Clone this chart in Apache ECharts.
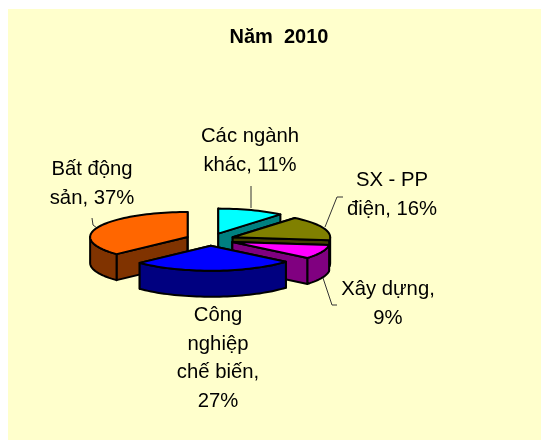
<!DOCTYPE html>
<html>
<head>
<meta charset="utf-8">
<style>html,body{margin:0;padding:0;background:#fff}#c{width:541px;height:440px}</style>
<script src="https://cdn.jsdelivr.net/npm/echarts@6/dist/echarts.min.js"></script>
</head>
<body>
<div id="c"></div>
<script>
var categories = ['Các ngành khác', 'SX - PP điện', 'Xây dựng', 'Công nghiệp chế biến', 'Bất động sản'];
var values = [11, 16, 9, 27, 37];
var titleText = 'Năm  2010';

var topColors = ['#00FFFF', '#808000', '#FF00FF', '#0000FF', '#FF6600'];
var wallColors = ['#008080', '#404000', '#800080', '#000080', '#803300'];
var labelLines = [
  ['Các ngành', 'khác, 11%'],
  ['SX - PP', 'điện, 16%'],
  ['Xây dựng,', '9%'],
  ['Công', 'nghiệp', 'chế biến,', '27%'],
  ['Bất động', 'sản, 37%']
];
var labelAnchors = [[250, 136.5], [392, 180.5], [388, 289.5], [218, 315.5], [92, 169.5]];
var leaders = [
  [[251, 186], [251, 208]],
  [[343, 197], [337, 197], [325, 227]],
  [[337, 305], [332, 305], [323, 278]],
  null,
  [[92, 218], [93, 225], [97, 228]]
];

var CX = 210, CY = 239.5, RX = 97.5, RY = 25, DEPTH = 26, EXPLODE = 0.25, LINE_H = 28.7;
var total = values.reduce(function (a, b) { return a + b; }, 0);
var spans = [], acc = 0;
values.forEach(function (v) {
  var a0 = acc / total * Math.PI * 2;
  acc += v;
  spans.push([a0, acc / total * Math.PI * 2]);
});
function pt(apex, a, dz) {
  return [apex[0] + RX * Math.sin(a), apex[1] - RY * Math.cos(a) + (dz || 0)];
}
function arc(apex, a0, a1, dz) {
  var pts = [], n = Math.max(2, Math.ceil((a1 - a0) / 0.04));
  for (var i = 0; i <= n; i++) pts.push(pt(apex, a0 + (a1 - a0) * i / n, dz));
  return pts;
}
function poly(points, fill) {
  return {
    type: 'polygon',
    shape: { points: points },
    style: { fill: fill, stroke: '#000', lineWidth: 2, lineJoin: 'round' }
  };
}
function renderItem(params, api) {
  var i = api.value(0);
  var a0 = spans[i][0], a1 = spans[i][1], mid = (a0 + a1) / 2;
  var apex = [CX + EXPLODE * RX * Math.sin(mid), CY - EXPLODE * RY * Math.cos(mid)];
  var low = [apex[0], apex[1] + DEPTH];
  var kids = [];
  [a0, a1].forEach(function (a) {
    kids.push(poly([apex, pt(apex, a), pt(apex, a, DEPTH), low], wallColors[i]));
  });
  var f0 = Math.max(a0, Math.PI / 2), f1 = Math.min(a1, Math.PI * 1.5);
  if (f1 > f0) {
    kids.push(poly(arc(apex, f0, f1, 0).concat(arc(apex, f0, f1, DEPTH).reverse()), wallColors[i]));
  }
  kids.push(poly([apex].concat(arc(apex, a0, a1, 0)), topColors[i]));
  return { type: 'group', children: kids };
}
function labelItem(params, api) {
  var i = api.value(0);
  var kids = labelLines[i].map(function (t, k) {
    return {
      type: 'text',
      style: {
        text: t, x: labelAnchors[i][0], y: labelAnchors[i][1] + k * LINE_H,
        font: '20.3px "Liberation Sans", Arial, sans-serif', fill: '#000',
        align: 'center', verticalAlign: 'middle'
      }
    };
  });
  if (leaders[i]) {
    kids.push({
      type: 'polyline', shape: { points: leaders[i] },
      style: { stroke: '#333', lineWidth: 1, fill: null }
    });
  }
  return { type: 'group', children: kids };
}
var order = categories.map(function (_, i) { return i; }).sort(function (a, b) {
  return Math.cos((spans[b][0] + spans[b][1]) / 2) < Math.cos((spans[a][0] + spans[a][1]) / 2) ? -1 : 1;
});
var chart = echarts.init(document.getElementById('c'), null, { renderer: 'canvas' });
chart.setOption({
  animation: false,
  backgroundColor: '#fff',
  title: {
    text: titleText, left: 279, top: 27, textAlign: 'center',
    textStyle: { fontFamily: '"Liberation Sans", Arial, sans-serif', fontSize: 20, fontWeight: 'bold', color: '#000' },
    padding: 0
  },
  graphic: [{
    type: 'rect', z: -10, silent: true,
    shape: { x: 8, y: 9, width: 533, height: 431 },
    style: { fill: '#FFFFCC' }
  }],
  series: [
    { type: 'custom', name: 'labels', coordinateSystem: 'none', renderItem: labelItem, silent: true, z: 2,
      data: categories.map(function (c, i) { return [i, values[i]]; }) },
    { type: 'custom', name: 'slices', coordinateSystem: 'none', renderItem: renderItem, silent: true, z: 3,
      data: order.map(function (i) { return { value: [i, values[i]], name: categories[i] }; }) }
  ]
});
</script>
</body>
</html>
